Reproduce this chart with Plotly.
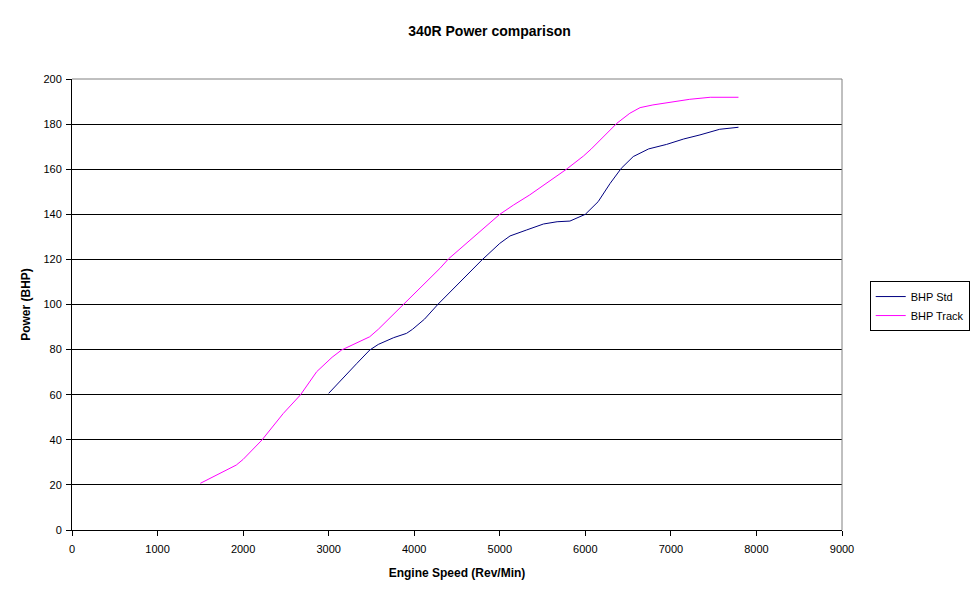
import plotly.graph_objects as go

# Data
track_rpm = [1500, 1920, 2000, 2220, 2470, 2670, 2860, 3040, 3150, 3480, 3580, 3870, 4300,
             4400, 5000, 5160, 5350, 5780, 5980, 6070, 6370, 6520, 6640, 6790, 7070, 7220, 7460, 7790]
track_bhp = [20.7, 28.8, 31.3, 39.9, 51.7, 59.9, 70.2, 76.6, 79.8, 85.7, 89.0, 99.8, 116.0,
             120.2, 140.0, 144.1, 148.6, 160.0, 165.9, 169.0, 180.4, 184.8, 187.3, 188.5, 190.2, 191.0, 191.9, 191.9]

std_rpm = [3000, 3190, 3330, 3480, 3580, 3760, 3910, 3980, 4120, 4280, 4790, 5000, 5120, 5310,
           5510, 5670, 5820, 6000, 6150, 6290, 6420, 6560, 6740, 6950, 7150, 7340, 7570, 7790]
std_bhp = [60.6, 68.0, 73.9, 79.8, 82.3, 85.3, 87.2, 89.0, 93.5, 100.2, 119.7, 127.1, 130.4, 133.0,
           135.7, 136.7, 137.0, 140.0, 145.6, 153.7, 160.4, 165.6, 169.0, 171.0, 173.4, 175.2, 177.7, 178.6]

x_ticks = [0, 1000, 2000, 3000, 4000, 5000, 6000, 7000, 8000, 9000]
y_ticks = [0, 20, 40, 60, 80, 100, 120, 140, 160, 180, 200]

FONT = "Liberation Sans, Arial, sans-serif"

fig = go.Figure()
fig.add_trace(go.Scatter(x=std_rpm, y=std_bhp, mode="lines", name="BHP Std",
                         line=dict(color="#000080", width=1)))
fig.add_trace(go.Scatter(x=track_rpm, y=track_bhp, mode="lines", name="BHP Track",
                         line=dict(color="#FF00FF", width=1)))

fig.update_layout(
    width=977, height=600,
    paper_bgcolor="white", plot_bgcolor="white",
    margin=dict(l=72, r=135, t=79, b=70, autoexpand=False),
    font=dict(family=FONT, size=12, color="black"),
    title=dict(text="<b>340R Power comparison</b>", x=0.501, xref="container", xanchor="center",
               y=0.948, yref="container", yanchor="middle",
               font=dict(size=14, family=FONT, color="black")),
    showlegend=True,
    legend=dict(x=1.036, y=0.552, xanchor="left", yanchor="top",
                bordercolor="black", borderwidth=1, bgcolor="white",
                font=dict(size=11, family=FONT, color="black"), tracegroupgap=0, itemwidth=30),
    xaxis=dict(range=[0, 9000], tickvals=x_ticks, ticktext=[str(v) for v in x_ticks],
               automargin=False,
               showgrid=False, zeroline=False, showline=True, linecolor="black", linewidth=1,
               ticks="outside", ticklen=5, tickcolor="black", ticklabelstandoff=4,
               tickfont=dict(size=11, color="black"),
               title=dict(text="<b>Engine Speed (Rev/Min)</b>", font=dict(size=12, color="black"), standoff=14)),
    yaxis=dict(range=[0, 200], tickvals=y_ticks, ticktext=[str(v) for v in y_ticks],
               automargin=False,
               showgrid=True, gridcolor="black", gridwidth=1,
               zeroline=False, showline=True, linecolor="black", linewidth=1,
               ticks="outside", ticklen=5, tickcolor="black", ticklabelstandoff=2,
               tickfont=dict(size=11, color="black"),
               title=dict(text="<b>Power (BHP)</b>", font=dict(size=12, color="black"), standoff=10)),
    shapes=[
        dict(type="line", xref="paper", yref="paper", x0=0, x1=1, y0=1, y1=1,
             line=dict(color="#808080", width=1), layer="above"),
        dict(type="line", xref="paper", yref="paper", x0=1, x1=1, y0=0, y1=1,
             line=dict(color="#808080", width=1), layer="above"),
    ],
)

fig.write_html("out.html", config={"displayModeBar": False},
               post_script="document.body.style.margin='0';document.body.style.overflow='hidden';")
